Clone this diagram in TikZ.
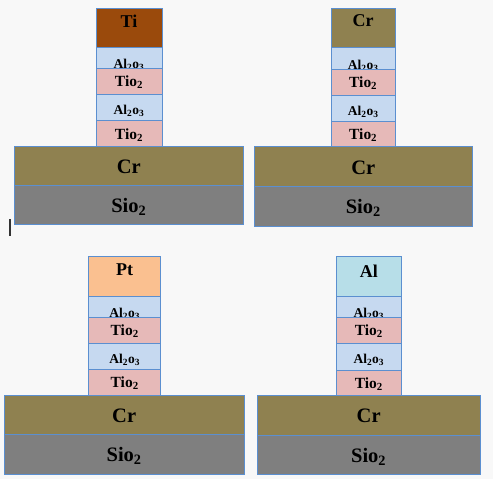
\documentclass[tikz,border=0pt]{standalone}
\usepackage{fontspec}
\setmainfont{Liberation Serif}
\definecolor{bgc}{HTML}{F8F8F8}
\definecolor{edge}{HTML}{5B8FD0}
\definecolor{tic}{HTML}{9A4A0C}
\definecolor{crc}{HTML}{8F8150}
\definecolor{alo}{HTML}{C6D9F0}
\definecolor{tio}{HTML}{E6B9B8}
\definecolor{sic}{HTML}{7F7F7F}
\definecolor{ptc}{HTML}{FAC090}
\definecolor{alc}{HTML}{B7DEE8}
\newcommand\fbig{\fontsize{20.5}{20.5}\selectfont\bfseries}
\newcommand\fmet{\fontsize{18}{18}\selectfont\bfseries}
\newcommand\ftio{\fontsize{15.5}{15.5}\selectfont\bfseries}
\newcommand\falo{\fontsize{13.5}{13.5}\selectfont\bfseries}
\newcommand\AlO{Al\textsubscript{2}o\textsubscript{3}}
\newcommand\TiO{Tio\textsubscript{2}}
\newcommand\SiO{Sio\textsubscript{2}}
% \layer[font]{name}{x1}{y1}{x2}{y2}{fill}{label}{label y}
\newcommand\layer[9][\fbig]{%
  \draw[lay, fill=#7] (#3,#4) rectangle (#5,#6);
  \node[txt, font=#1] (#2) at ({(#3+#5)/2},#9) {#8};}
\begin{document}
\begin{tikzpicture}[x=1pt,y=-1pt,
  lay/.style={draw=edge, line width=0.9pt},
  txt/.style={inner sep=0pt, text=black}]
\fill[bgc] (0,0) rectangle (493,479);
\useasboundingbox (0,0) rectangle (493,479);

% ---------- panel 1 (Ti) ----------
\layer{p1si}{14.3}{185.7}{243.3}{224}{sic}{\SiO}{207}
\layer{p1cr}{14.3}{146.7}{243.3}{185.7}{crc}{Cr}{167}
\layer[\fmet]{p1top}{96}{8}{162}{47.7}{tic}{Ti}{21}
\layer[\falo]{p1a1}{96}{47.7}{162}{68.3}{alo}{\AlO}{64.5}
\layer[\ftio]{p1t1}{96}{68.3}{162}{94.3}{tio}{\TiO}{82.5}
\layer[\falo]{p1a2}{96}{94.3}{162}{120.7}{alo}{\AlO}{110.5}
\layer[\ftio]{p1t2}{96}{120.7}{162}{146.7}{tio}{\TiO}{135}
\coordinate (bar1) at (9.8,219);
\coordinate (bar2) at (9.8,235.5);
\draw[line width=2pt, black!80] (bar1) -- (bar2);

% ---------- panel 2 (Cr) ----------
\layer{p2si}{254.7}{186.7}{472}{226}{sic}{\SiO}{208}
\layer{p2cr}{254.7}{146.7}{472}{186.7}{crc}{Cr}{167.5}
\layer[\fmet]{p2top}{331.3}{8}{395}{47.7}{crc}{Cr}{21}
\layer[\falo]{p2a1}{331.3}{47.7}{395}{69.3}{alo}{\AlO}{65.5}
\layer[\ftio]{p2t1}{331.3}{69.3}{395}{95.7}{tio}{\TiO}{83.5}
\layer[\falo]{p2a2}{331.3}{95.7}{395}{121}{alo}{\AlO}{111.5}
\layer[\ftio]{p2t2}{331.3}{121}{395}{146.7}{tio}{\TiO}{135}

% ---------- panel 3 (Pt) ----------
\layer{p3si}{4}{434}{244.3}{474}{sic}{\SiO}{456}
\layer{p3cr}{4}{395.3}{244.3}{434}{crc}{Cr}{415.5}
\layer[\fmet]{p3top}{88.7}{256.7}{160.7}{296.7}{ptc}{Pt}{270}
\layer[\falo]{p3a1}{88.7}{296.7}{160.7}{317.7}{alo}{\AlO}{313.5}
\layer[\ftio]{p3t1}{88.7}{317.7}{160.7}{343.3}{tio}{\TiO}{331.5}
\layer[\falo]{p3a2}{88.7}{343.3}{160.7}{369.3}{alo}{\AlO}{359.5}
\layer[\ftio]{p3t2}{88.7}{369.3}{160.7}{395.3}{tio}{\TiO}{383.5}

% ---------- panel 4 (Al) ----------
\layer{p4si}{257}{435.7}{480.3}{474.3}{sic}{\SiO}{457}
\layer{p4cr}{257}{395.7}{480.3}{435.7}{crc}{Cr}{416}
\layer[\fmet]{p4top}{336}{256.7}{401.7}{296.7}{alc}{Al}{271}
\layer[\falo]{p4a1}{336}{296.7}{401.7}{317.7}{alo}{\AlO}{313.5}
\layer[\ftio]{p4t1}{336}{317.7}{401.7}{343.3}{tio}{\TiO}{331.5}
\layer[\falo]{p4a2}{336}{343.3}{401.7}{370}{alo}{\AlO}{360}
\layer[\ftio]{p4t2}{336}{370}{401.7}{395.7}{tio}{\TiO}{384}
\end{tikzpicture}
\end{document}
